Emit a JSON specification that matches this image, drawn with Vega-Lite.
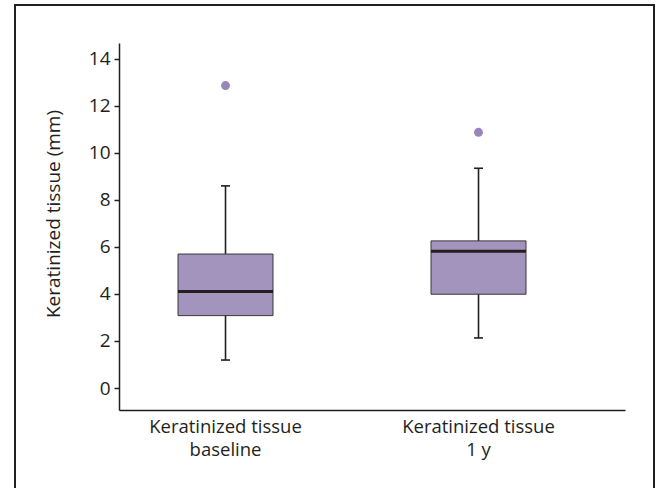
{
  "$schema": "https://vega.github.io/schema/vega-lite/v6.json",
  "autosize": "none",
  "padding": {"left": 15, "top": 5, "right": 5, "bottom": 0},
  "width": 639,
  "height": 490,
  "background": "white",
  "config": {
    "view": {"stroke": "#231f20", "strokeWidth": 2},
    "font": "Open Sans",
    "axis": {
      "labelFont": "Open Sans", "titleFont": "Open Sans",
      "labelFontSize": 19, "titleFontSize": 19,
      "labelColor": "#231f20", "titleColor": "#231f20",
      "titleFontWeight": "normal",
      "domainColor": "#231f20", "domainWidth": 1.5,
      "tickColor": "#231f20", "tickWidth": 1.5,
      "grid": false
    }
  },
  "data": {
    "values": [
      {"group": "Keratinized tissue|baseline", "lower": 1.19, "q1": 3.08, "median": 4.11, "q3": 5.70, "upper": 8.6, "outlier": 12.87},
      {"group": "Keratinized tissue|1 y", "lower": 2.13, "q1": 3.99, "median": 5.82, "q3": 6.26, "upper": 9.35, "outlier": 10.88}
    ]
  },
  "encoding": {
    "x": {
      "field": "group", "type": "nominal", "sort": null,
      "scale": {"type": "band", "range": [104, 610], "paddingInner": 0.5, "paddingOuter": 0.25, "align": 0.342},
      "axis": {"title": null, "ticks": false, "tickSize": 0, "labelAngle": 0, "labelFontSize": 18.5, "labelPadding": 7, "labelLineHeight": 23.5, "offset": -85,
        "labelExpr": "split(datum.label, '|')"}
    }
  },
  "layer": [
    {
      "mark": {"type": "rule", "color": "#231f20", "strokeWidth": 1.6},
      "encoding": {
        "y": {"field": "lower", "type": "quantitative",
          "scale": {"domain": [-0.936, 14.68], "range": [405, 38], "nice": false, "zero": false},
          "axis": {"title": "Keratinized tissue (mm)", "values": [0, 2, 4, 6, 8, 10, 12, 14], "tickSize": 5, "labelPadding": 4, "offset": -104, "titleX": -56, "titleY": 208.5}},
        "y2": {"field": "upper"}
      }
    },
    {
      "mark": {"type": "tick", "color": "#231f20", "opacity": 1, "thickness": 1.6, "size": 9},
      "encoding": {"y": {"field": "lower", "type": "quantitative"}}
    },
    {
      "mark": {"type": "tick", "color": "#231f20", "opacity": 1, "thickness": 1.6, "size": 9},
      "encoding": {"y": {"field": "upper", "type": "quantitative"}}
    },
    {
      "mark": {"type": "bar", "size": 95, "fill": "#a394be", "stroke": "#3a3638", "strokeWidth": 1},
      "encoding": {
        "y": {"field": "q1", "type": "quantitative"},
        "y2": {"field": "q3"}
      }
    },
    {
      "mark": {"type": "tick", "color": "#231f20", "opacity": 1, "thickness": 3, "size": 95},
      "encoding": {"y": {"field": "median", "type": "quantitative"}}
    },
    {
      "mark": {"type": "circle", "color": "#9885bb", "opacity": 1, "size": 80},
      "encoding": {"y": {"field": "outlier", "type": "quantitative"}}
    }
  ]
}
